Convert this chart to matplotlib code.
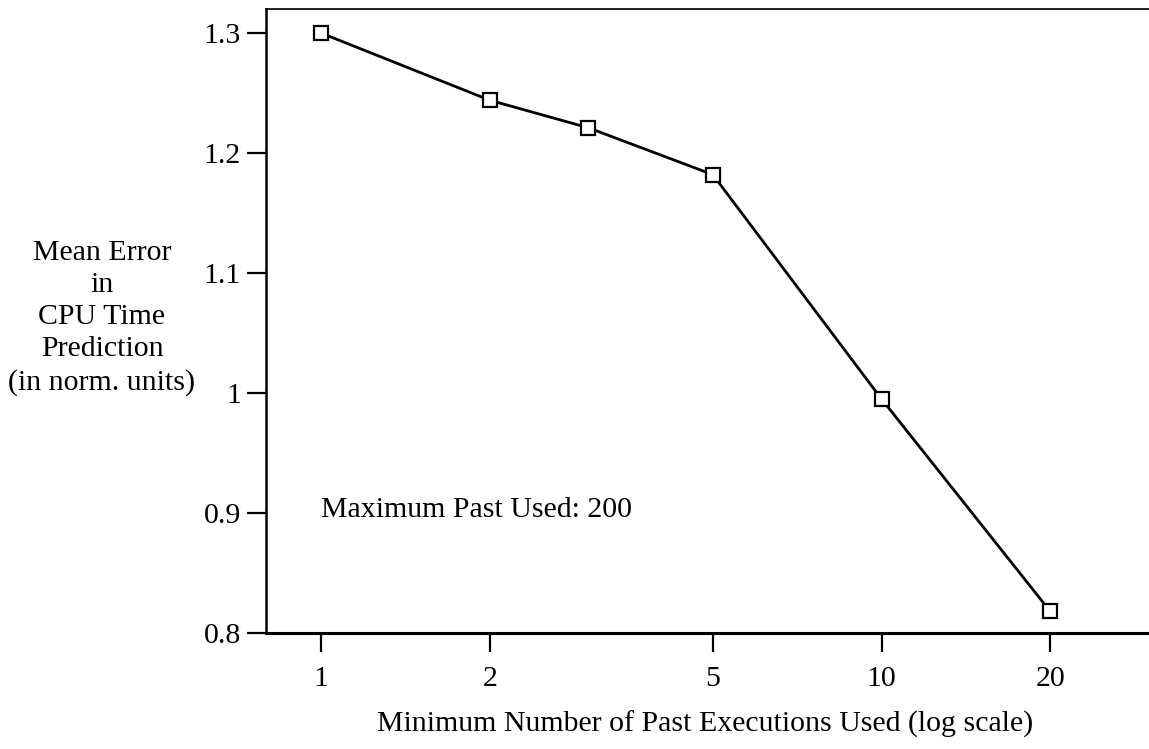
import matplotlib
matplotlib.use("Agg")
import matplotlib.pyplot as plt
from matplotlib.ticker import FixedLocator, FixedFormatter, NullLocator

# Mean prediction error vs. minimum number of past executions
min_past = [1, 2, 3, 5, 10, 20]
mean_error = [1.300, 1.244, 1.221, 1.182, 0.995, 0.818]

x_ticks = [1, 2, 5, 10, 20]
x_tick_labels = ["1", "2", "5", "10", "20"]
y_ticks = [0.8, 0.9, 1.0, 1.1, 1.2, 1.3]
y_tick_labels = ["0.8", "0.9", "1", "1.1", "1.2", "1.3"]

plt.rcParams["font.family"] = ["Liberation Serif", "DejaVu Serif"]
FS = 21.5

W, H = 1149, 749
fig = plt.figure(figsize=(W / 100, H / 100), dpi=100)
ax = fig.add_axes([266 / W, (H - 633) / H, 1 - 266 / W, (633 - 9) / H])

ax.plot(min_past, mean_error, color="black", lw=2.0, marker="s",
        markersize=10.5, markerfacecolor="white", markeredgecolor="black",
        markeredgewidth=1.6, zorder=3)

ax.set_xscale("log")
ax.set_xlim(0.798, 30)
ax.set_ylim(0.8, 1.32)

ax.xaxis.set_major_locator(FixedLocator(x_ticks))
ax.xaxis.set_major_formatter(FixedFormatter(x_tick_labels))
ax.xaxis.set_minor_locator(NullLocator())
ax.yaxis.set_major_locator(FixedLocator(y_ticks))
ax.yaxis.set_major_formatter(FixedFormatter(y_tick_labels))

ax.tick_params(axis="x", direction="out", length=14, width=1.6,
               labelsize=FS, pad=10)
ax.tick_params(axis="y", direction="out", length=14, width=1.6,
               labelsize=FS, pad=4)

ax.spines["right"].set_visible(False)
ax.spines["left"].set_linewidth(1.8)
ax.spines["bottom"].set_linewidth(2.2)
ax.spines["top"].set_linewidth(1.2)

ax.text(1.0, 0.9025, "Maximum Past Used: 200", fontsize=FS,
        ha="left", va="center")

fig.text(102 / W, 1 - 318 / H,
         "Mean Error\nin\nCPU Time\nPrediction\n(in norm. units)",
         ha="center", va="center", multialignment="center", fontsize=FS,
         linespacing=1.3)

fig.text(705 / W, 1 - 724 / H,
         "Minimum Number of Past Executions Used (log scale)",
         ha="center", va="center", fontsize=FS)

fig.savefig("out.png", dpi=100)
